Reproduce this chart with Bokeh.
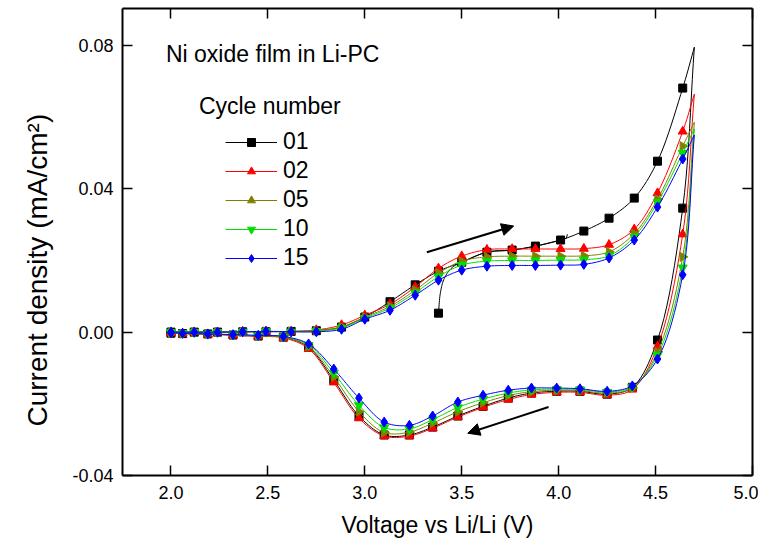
import numpy as np
from bokeh.plotting import figure
from bokeh.models import (Range1d, LinearAxis, FixedTicker, PrintfTickFormatter,
                          Legend, LegendItem, Label, Arrow, NormalHead, Title)
from bokeh.embed import file_html
from bokeh.resources import INLINE

# ---------------- data ----------------
V_UP = [2.00, 2.12, 2.24, 2.37, 2.49, 2.62, 2.75, 2.88, 3.00, 3.13, 3.26, 3.38,
        3.50, 3.63, 3.76, 3.88, 4.01, 4.13, 4.26, 4.39, 4.51, 4.64, 4.70]
V_DOWN = [4.70, 4.64, 4.51, 4.38, 4.25, 4.11, 3.99, 3.86, 3.74, 3.61, 3.48, 3.35,
          3.23, 3.10, 2.97, 2.84, 2.71, 2.58, 2.45, 2.32, 2.19, 2.06, 2.00]

I01_UP = [0.0000, 0.0000, 0.0000, 0.0001, 0.0001, 0.0002, 0.0004, 0.0014, 0.0042, 0.0085, 0.0132, 0.0170,
          0.0195, 0.0223, 0.0229, 0.0240, 0.0257, 0.0282, 0.0318, 0.0374, 0.0477, 0.0681, 0.0795]
I02_UP = [0.0000, 0.0000, 0.0000, 0.0001, 0.0002, 0.0002, 0.0006, 0.0020, 0.0047, 0.0078, 0.0126, 0.0178,
          0.0212, 0.0230, 0.0232, 0.0232, 0.0232, 0.0233, 0.0244, 0.0287, 0.0388, 0.0560, 0.0664]
I05_UP = [0.0000, 0.0000, 0.0000, 0.0001, 0.0002, 0.0002, 0.0004, 0.0015, 0.0042, 0.0072, 0.0117, 0.0165,
          0.0198, 0.0210, 0.0212, 0.0212, 0.0212, 0.0213, 0.0224, 0.0275, 0.0371, 0.0519, 0.0586]
I10_UP = [0.0000, 0.0000, 0.0000, 0.0001, 0.0002, 0.0001, 0.0003, 0.0012, 0.0039, 0.0067, 0.0110, 0.0155,
          0.0187, 0.0198, 0.0200, 0.0200, 0.0201, 0.0202, 0.0213, 0.0266, 0.0362, 0.0500, 0.0567]
I15_UP = [0.0000, 0.0000, 0.0000, 0.0001, 0.0002, 0.0001, 0.0001, 0.0008, 0.0036, 0.0061, 0.0103, 0.0145,
          0.0173, 0.0184, 0.0186, 0.0186, 0.0187, 0.0189, 0.0207, 0.0257, 0.0349, 0.0483, 0.0550]

I01_DOWN = [0.0795, 0.0346, -0.0022, -0.0154, -0.0173, -0.0165, -0.0165, -0.0170, -0.0184, -0.0207, -0.0234, -0.0265,
            -0.0287, -0.0287, -0.0234, -0.0134, -0.0042, -0.0014, -0.0011, -0.0008, -0.0005, -0.0004, -0.0003]
I02_DOWN = [0.0664, 0.0273, -0.0040, -0.0160, -0.0176, -0.0168, -0.0168, -0.0174, -0.0188, -0.0210, -0.0237, -0.0268,
            -0.0290, -0.0290, -0.0240, -0.0140, -0.0046, -0.0016, -0.0012, -0.0009, -0.0006, -0.0004, -0.0003]
I05_DOWN = [0.0586, 0.0210, -0.0055, -0.0156, -0.0170, -0.0163, -0.0162, -0.0166, -0.0177, -0.0197, -0.0222, -0.0254,
            -0.0279, -0.0280, -0.0222, -0.0125, -0.0040, -0.0014, -0.0010, -0.0008, -0.0005, -0.0004, -0.0003]
I10_DOWN = [0.0567, 0.0180, -0.0065, -0.0153, -0.0167, -0.0160, -0.0159, -0.0161, -0.0170, -0.0187, -0.0210, -0.0244,
            -0.0270, -0.0266, -0.0204, -0.0114, -0.0036, -0.0013, -0.0010, -0.0007, -0.0005, -0.0003, -0.0002]
I15_DOWN = [0.0550, 0.0160, -0.0075, -0.0150, -0.0165, -0.0158, -0.0156, -0.0156, -0.0162, -0.0176, -0.0195, -0.0234,
            -0.0260, -0.0251, -0.0184, -0.0103, -0.0033, -0.0012, -0.0009, -0.0007, -0.0005, -0.0003, -0.0002]

# cycle 01 starts at open-circuit potential and ends part way up the anodic sweep
V01_START = [3.38, 3.39, 3.41, 3.45, 3.50]
I01_START = [0.0053, 0.0110, 0.0150, 0.0180, 0.0195]
V01_END = [4.01, 4.04, 4.045]
I01_END = [0.0257, 0.0262, 0.0273]

CYCLES = ["01", "02", "05", "10", "15"]
COLORS = ["#000000", "#FF0000", "#808000", "#00DD00", "#0000FF"]
MARKERS = ["square", "triangle", "triangle", "inverted_triangle", "diamond"]
MARKER_ANGLES = [0.0, 0.0, -90.0, 0.0, 0.0]
MARKER_SIZES = [8, 9, 9, 9, 10]
I_UP = [I01_UP, I02_UP, I05_UP, I10_UP, I15_UP]
I_DOWN = [I01_DOWN, I02_DOWN, I05_DOWN, I10_DOWN, I15_DOWN]

X_TICKS = [2.0, 2.5, 3.0, 3.5, 4.0, 4.5, 5.0]
Y_TICKS = [-0.04, 0.0, 0.04, 0.08]

FONT = "Liberation Sans"


def spline(xs, ys, n=10):
    """Centripetal Catmull-Rom line through the given points (line rendering only)."""
    P = np.column_stack([np.asarray(xs, float) * 194.0, np.asarray(ys, float) * 3583.0])
    if len(P) < 3:
        return list(xs), list(ys)
    P = np.vstack([2 * P[0] - P[1], P, 2 * P[-1] - P[-2]])
    out = [P[1]]
    for i in range(1, len(P) - 2):
        p0, p1, p2, p3 = P[i - 1], P[i], P[i + 1], P[i + 2]
        t0 = 0.0
        t1 = t0 + max(np.linalg.norm(p1 - p0), 1e-6) ** 0.5
        t2 = t1 + max(np.linalg.norm(p2 - p1), 1e-6) ** 0.5
        t3 = t2 + max(np.linalg.norm(p3 - p2), 1e-6) ** 0.5
        for t in np.linspace(t1, t2, n + 1)[1:]:
            a1 = (t1 - t) / (t1 - t0) * p0 + (t - t0) / (t1 - t0) * p1
            a2 = (t2 - t) / (t2 - t1) * p1 + (t - t1) / (t2 - t1) * p2
            a3 = (t3 - t) / (t3 - t2) * p2 + (t - t2) / (t3 - t2) * p3
            b1 = (t2 - t) / (t2 - t0) * a1 + (t - t0) / (t2 - t0) * a2
            b2 = (t3 - t) / (t3 - t1) * a2 + (t - t1) / (t3 - t1) * a3
            c = (t2 - t) / (t2 - t1) * b1 + (t - t1) / (t2 - t1) * b2
            out.append(c)
    out = np.array(out)
    return list(out[:, 0] / 194.0), list(out[:, 1] / 3583.0)


p = figure(width=758, height=540, output_backend="svg", toolbar_location=None,
           x_range=Range1d(1.75, 5.0), y_range=Range1d(-0.04, 0.0903),
           min_border_left=122, min_border_right=6, min_border_top=8, min_border_bottom=63,
           background_fill_color="white", border_fill_color="white")
p.outline_line_color = None
p.grid.visible = False

items = []
for k, name in enumerate(CYCLES):
    col = COLORS[k]
    segs_x, segs_y = [], []
    mx, my = [], []
    if name == "01":
        sx, sy = spline(V01_START + V_UP[13:], I01_START + I01_UP[13:])
        segs_x.append(sx); segs_y.append(sy)
        sx, sy = spline(V_DOWN, I_DOWN[k])
        segs_x.append(sx); segs_y.append(sy)
        sx, sy = spline(V_UP[:17], I_UP[k][:17])
        segs_x.append(sx); segs_y.append(sy)
        segs_x.append(V01_END); segs_y.append(I01_END)
        mx += [V01_START[0]] + V_UP[12:-1] + V_DOWN[1:] + V_UP[:12]
        my += [I01_START[0]] + I_UP[k][12:-1] + I_DOWN[k][1:] + I_UP[k][:12]
    else:
        sx, sy = spline(V_UP, I_UP[k])
        segs_x.append(sx); segs_y.append(sy)
        sx, sy = spline(V_DOWN, I_DOWN[k])
        segs_x.append(sx); segs_y.append(sy)
        mx += V_UP[:-1] + V_DOWN[1:]
        my += I_UP[k][:-1] + I_DOWN[k][1:]
    lr = p.multi_line(xs=segs_x, ys=segs_y, line_color=col, line_width=1)
    sr = p.scatter(x=mx, y=my, marker=MARKERS[k], size=MARKER_SIZES[k],
                   angle=MARKER_ANGLES[k], angle_units="deg",
                   fill_color=col, line_color=col)
    items.append(LegendItem(label=name, renderers=[lr, sr]))

legend = Legend(items=items, location=(103, 204), orientation="vertical",
                glyph_width=52, glyph_height=20, label_height=20, spacing=2,
                padding=0, margin=0, label_standoff=6,
                label_text_font=FONT, label_text_font_size="23px", label_text_color="black",
                border_line_color=None, background_fill_alpha=0.0)
p.add_layout(legend, "center")

# axes
tick_x = FixedTicker(ticks=X_TICKS, num_minor_ticks=2)
tick_y = FixedTicker(ticks=Y_TICKS, num_minor_ticks=2)
for ax in (p.xaxis[0], p.yaxis[0]):
    ax.axis_line_width = 2
    ax.axis_line_color = "black"
    ax.major_tick_in = 10
    ax.major_tick_out = 0
    ax.minor_tick_in = 5
    ax.minor_tick_out = 0
    ax.major_tick_line_width = 1.5
    ax.minor_tick_line_width = 1.5
    ax.major_tick_line_color = "black"
    ax.minor_tick_line_color = "black"
    ax.major_label_text_font = FONT
    ax.major_label_text_font_size = "18px"
    ax.major_label_text_color = "black"
    ax.axis_label_text_font = FONT
    ax.axis_label_text_font_size = "23px"
    ax.axis_label_text_font_style = "normal"
    ax.axis_label_text_color = "black"

p.xaxis[0].ticker = tick_x
p.yaxis[0].ticker = tick_y
p.xaxis[0].formatter = PrintfTickFormatter(format="%.1f")
p.yaxis[0].formatter = PrintfTickFormatter(format="%.2f")
p.xaxis[0].axis_label = "Voltage vs Li/Li (V)"
p.xaxis[0].major_label_standoff = 10
p.xaxis[0].axis_label_standoff = 10
p.yaxis[0].major_label_standoff = 9

for place, tk in (("above", tick_x), ("right", tick_y)):
    ax = LinearAxis(ticker=tk, axis_line_width=2, axis_line_color="black",
                    major_tick_in=10, major_tick_out=0, minor_tick_in=5, minor_tick_out=0,
                    major_tick_line_width=1.5, minor_tick_line_width=1.5,
                    major_label_text_font_size="0px", major_label_standoff=0,
                    major_label_text_color=None)
    p.add_layout(ax, place)

# y axis title: in the reference it sits a little below the frame centre
p.add_layout(Title(text="Current density (mA/cm\u00b2)", align="left", offset=49,
                   vertical_align="middle", standoff=32,
                   text_font=FONT, text_font_size="28px", text_font_style="normal",
                   text_color="black"), "left")

# annotations
TITLE_POS = (1.974, 0.0776)
SUBTITLE_POS = (2.144, 0.0631)
p.add_layout(Label(x=TITLE_POS[0], y=TITLE_POS[1], text="Ni oxide film in Li-PC",
                   text_font=FONT, text_font_size="23px", text_color="black",
                   text_baseline="middle"))
p.add_layout(Label(x=SUBTITLE_POS[0], y=SUBTITLE_POS[1], text="Cycle number",
                   text_font=FONT, text_font_size="23px", text_color="black",
                   text_baseline="middle"))

ARROW_UP = (3.32, 0.0223, 3.768, 0.0296)
ARROW_DOWN = (3.948, -0.0209, 3.531, -0.0282)
for (x0, y0, x1, y1) in (ARROW_UP, ARROW_DOWN):
    p.add_layout(Arrow(x_start=x0, y_start=y0, x_end=x1, y_end=y1, line_width=2,
                       line_color="black",
                       end=NormalHead(size=12, fill_color="black", line_color="black")))

open("out.html", "w").write(file_html(p, INLINE))
